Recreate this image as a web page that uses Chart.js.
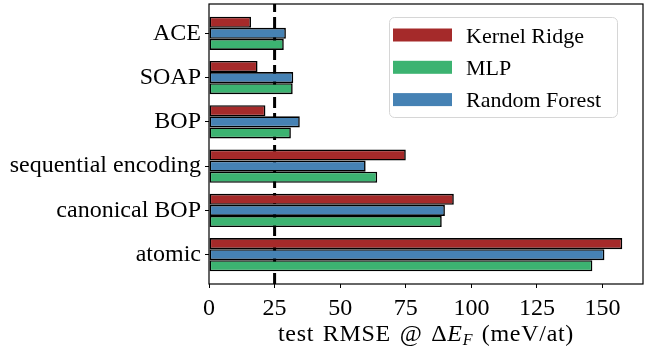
<!DOCTYPE html>
<html>
<head>
<meta charset="utf-8">
<script src="https://cdn.jsdelivr.net/npm/chart.js@4/dist/chart.umd.min.js"></script>
<style>
html, body { margin: 0; padding: 0; background: #fff; }
</style>
</head>
<body>
<canvas id="g_rmse" width="646" height="348"></canvas>
<script>
const descriptors = ["ACE", "SOAP", "BOP", "sequential encoding", "canonical BOP", "atomic"]
const kernel_ridge = [16, 18.5, 21.5, 75, 93.3, 157.5]
const random_forest = [29.3, 32.1, 34.6, 59.7, 89.9, 150.7]
const mlp = [28.5, 31.9, 31.2, 64.1, 88.7, 146.1]
const x_ticks = [0, 25, 50, 75, 100, 125, 150]
const ref_line = 25 // dashed line

const serif = "'Liberation Serif', 'Times New Roman', serif"
Chart.defaults.font.family = serif
Chart.defaults.font.size = 24
Chart.defaults.color = "#000"

const toPoints = arr => arr.map((v, i) => ({ x: v, y: i }))

const datasets = [
    { label: "Kernel Ridge", data: toPoints(kernel_ridge), backgroundColor: "#a52a2a" },
    { label: "Random Forest", data: toPoints(random_forest), backgroundColor: "#4682b4" },
    { label: "MLP", data: toPoints(mlp), backgroundColor: "#3cb371" }
]
// legend shows them in another order than the bars
const legend_order = [0, 2, 1]

const noPad = s => { s.paddingTop = 0; s.paddingBottom = 0; s.paddingLeft = 0; s.paddingRight = 0 }

const extras = {
    id: "extras",
    beforeDatasetsDraw(chart) {
        const { ctx, chartArea, scales } = chart
        const x = scales.x.getPixelForValue(ref_line)
        ctx.save()
        ctx.strokeStyle = "#000"
        ctx.lineWidth = 3
        ctx.setLineDash([11, 5])
        ctx.beginPath()
        ctx.moveTo(x, chartArea.bottom)
        ctx.lineTo(x, chartArea.top)
        ctx.stroke()
        ctx.restore()
    },
    afterDatasetsDraw(chart) {
        const { ctx, chartArea: a } = chart
        ctx.save()
        ctx.strokeStyle = "#000"
        ctx.lineWidth = 1.2
        ctx.strokeRect(a.left, a.top, a.right - a.left, a.bottom - a.top)
        ctx.restore()
    },
    afterDraw(chart) {
        const { ctx, chartArea: a } = chart
        ctx.save()
        // legend box
        const bx = 389, by = 17, bw = 228, bh = 100, r = 5
        ctx.fillStyle = "rgba(255,255,255,0.8)"
        ctx.strokeStyle = "#d6d6d6"
        ctx.lineWidth = 1
        ctx.beginPath()
        ctx.roundRect(bx + 0.5, by + 0.5, bw, bh, r)
        ctx.fill()
        ctx.stroke()
        ctx.font = "22px " + serif
        ctx.textBaseline = "alphabetic"
        legend_order.forEach((di, k) => {
            const ds = chart.data.datasets[di]
            const cy = 35 + k * 32.3
            ctx.fillStyle = ds.backgroundColor
            ctx.fillRect(393, cy - 6.5, 59, 13)
            ctx.fillStyle = "#000"
            ctx.fillText(ds.label, 466, cy + 7.5)
        })
        // x axis title with math part
        const parts = [
            { t: "test RMSE @ \u0394", f: "24px " + serif, dy: 0 },
            { t: "E", f: "italic 24px " + serif, dy: 0 },
            { t: "F", f: "italic 16px " + serif, dy: 4 },
            { t: " (meV/at)", f: "24px " + serif, dy: 0 }
        ]
        ctx.letterSpacing = "0.7px"
        ctx.wordSpacing = "2px"
        let w = 0
        parts.forEach(p => { ctx.font = p.f; p.w = ctx.measureText(p.t).width; w += p.w })
        let x = (a.left + a.right) / 2 - w / 2
        const base = 341
        ctx.fillStyle = "#000"
        parts.forEach(p => {
            ctx.font = p.f
            ctx.fillText(p.t, x, base + p.dy)
            x += p.w
        })
        ctx.restore()
    }
}

new Chart(document.getElementById("g_rmse"), {
    type: "bar",
    data: { datasets: datasets },
    options: {
        responsive: false,
        animation: false,
        indexAxis: "y",
        layout: { padding: { left: 0, right: 3, top: 4, bottom: 0 } },
        datasets: {
            bar: {
                categoryPercentage: 0.75,
                barPercentage: 1.0,
                borderColor: "#000",
                borderWidth: 1.6,
                borderSkipped: false
            }
        },
        scales: {
            x: {
                type: "linear",
                min: 0,
                max: 165.4,
                afterFit: s => { s.height = 64; noPad(s) },
                afterBuildTicks: s => { s.ticks = x_ticks.map(v => ({ value: v })) },
                grid: { drawOnChartArea: false, drawTicks: true, tickLength: 4, tickColor: "#000" },
                border: { display: false },
                ticks: { padding: 6, maxRotation: 0 }
            },
            y: {
                type: "linear",
                offset: false,
                min: -0.6625,
                max: 5.6625,
                reverse: true,
                afterFit: s => { s.width = 209; noPad(s) },
                afterBuildTicks: s => { s.ticks = descriptors.map((d, i) => ({ value: i })) },
                grid: { offset: false, drawOnChartArea: false, drawTicks: true, tickLength: 4, tickColor: "#000" },
                border: { display: false },
                ticks: { padding: 4, callback: v => descriptors[v] }
            }
        },
        plugins: {
            legend: { display: false },
            tooltip: { enabled: false }
        }
    },
    plugins: [extras]
})
</script>
</body>
</html>
